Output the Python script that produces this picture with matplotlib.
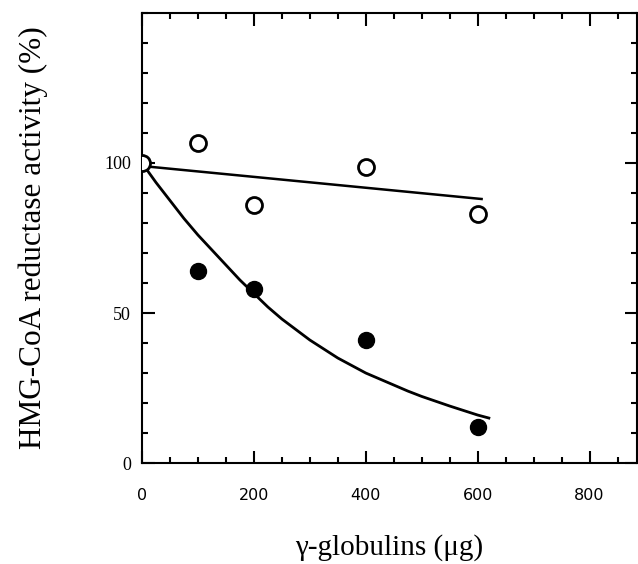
import matplotlib.pyplot as plt
from matplotlib.ticker import MultipleLocator

# measured points
dose = [0, 100, 200, 400, 600]
open_pts = [100, 106.5, 86, 98.5, 83]
filled_pts = [100, 64, 58, 41, 12]

# fitted lines
open_fit_x = [0, 607]
open_fit_y = [99, 88]
filled_fit_x = [0, 25, 50, 75, 100, 125, 150, 175, 200, 225, 250, 275, 300,
                325, 350, 375, 400, 425, 450, 475, 500, 525, 550, 575, 600, 620]
filled_fit_y = [100, 93.5, 87.5, 81.5, 76, 71, 66, 61, 56.5, 52, 48, 44.5, 41,
                38, 35, 32.5, 30, 28, 26, 24, 22.2, 20.6, 19, 17.5, 16, 15]

xticks = [0, 200, 400, 600, 800]
yticks = [0, 50, 100]

fig = plt.figure(figsize=(6.38, 5.64), dpi=100)
ax = fig.add_axes([0.2226, 0.179, 0.776, 0.798])

ax.plot(open_fit_x, open_fit_y, color='black', lw=1.8)
ax.plot(filled_fit_x, filled_fit_y, color='black', lw=2.0)
ax.plot(dose, filled_pts, 'o', color='black', ms=11.5, zorder=3)
ax.plot(dose, open_pts, 'o', mfc='white', mec='black', mew=2, ms=11.5, zorder=4)

ax.set_xlim(0, 885)
ax.set_ylim(0, 150)
ax.set_xticks(xticks)
ax.set_yticks(yticks)
ax.xaxis.set_minor_locator(MultipleLocator(50))
ax.yaxis.set_minor_locator(MultipleLocator(10))

for s in ax.spines.values():
    s.set_linewidth(1.5)

ax.tick_params(which='both', direction='in', top=True, right=True, width=1.5)
ax.tick_params(which='major', length=9)
ax.tick_params(which='minor', length=4)
ax.tick_params(axis='x', which='major', pad=18)
ax.tick_params(axis='y', which='major', pad=8)

for lbl in ax.get_yticklabels():
    lbl.set_fontfamily('Liberation Serif')
    lbl.set_fontsize(13)
for lbl in ax.get_xticklabels():
    lbl.set_fontfamily('DejaVu Sans')
    lbl.set_fontsize(11.5)

ax.set_ylabel('HMG-CoA reductase activity (%)', family='Liberation Serif',
              fontsize=22.5, labelpad=40)
ax.set_xlabel('\u03b3-globulins (\u03bcg)', family='Liberation Serif',
              fontsize=21, labelpad=22)

plt.savefig('out.png', dpi=100)
